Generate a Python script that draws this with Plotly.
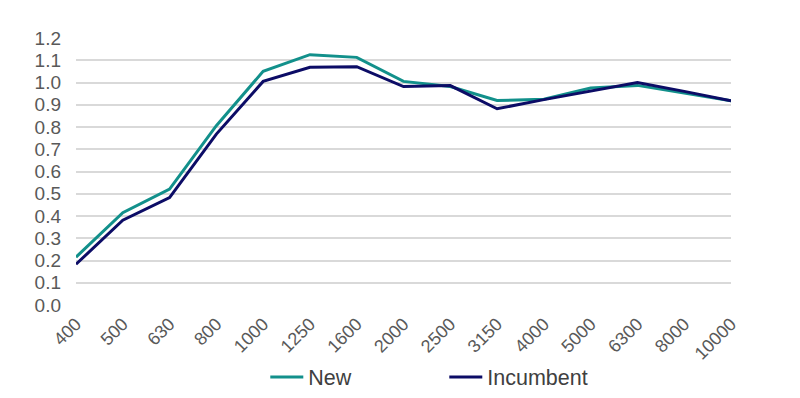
import plotly.graph_objects as go

freqs = ["400", "500", "630", "800", "1000", "1250", "1600", "2000", "2500",
         "3150", "4000", "5000", "6300", "8000", "10000"]
new_vals = [0.215, 0.415, 0.521, 0.806, 1.050, 1.125, 1.113, 1.005, 0.982,
            0.919, 0.925, 0.975, 0.987, 0.953, 0.918]
incumbent_vals = [0.183, 0.381, 0.483, 0.768, 1.005, 1.068, 1.071, 0.982, 0.986,
                  0.882, 0.923, 0.960, 1.000, 0.960, 0.918]
y_ticks = [round(i * 0.1, 1) for i in range(13)]

fig = go.Figure()
fig.add_trace(go.Scatter(x=freqs, y=new_vals, name="New", mode="lines",
                         line=dict(color="#12908B", width=3)))
fig.add_trace(go.Scatter(x=freqs, y=incumbent_vals, name="Incumbent", mode="lines",
                         line=dict(color="#0C0C66", width=3)))

# The page body adds an 8px margin, so the figure is 792x390 inside an 800x398 window
fig.update_layout(
    width=792, height=390,
    margin=dict(l=68, r=69, t=30, b=93, autoexpand=False),
    paper_bgcolor="white", plot_bgcolor="white",
    font=dict(family="Liberation Sans, Arial, sans-serif", color="#595959"),
    showlegend=True,
    legend=dict(orientation="h", x=0.289, xanchor="left", y=-0.27, yanchor="middle",
                font=dict(size=21.5, color="#404040"), itemwidth=33,
                entrywidth=131, entrywidthmode="pixels"),
)
fig.update_xaxes(type="category", range=[0, 14], tickangle=-45, automargin=False,
                 tickfont=dict(size=18, color="#595959"), ticklabelstandoff=4,
                 showgrid=False, showline=False, ticks="", zeroline=False)
fig.update_yaxes(range=[0, 1.2], tickvals=y_ticks, ticktext=[f"{v:.1f}" for v in y_ticks],
                 tickfont=dict(size=19, color="#595959"), automargin=False,
                 showgrid=True, gridcolor="#D9D9D9", gridwidth=1.5,
                 zeroline=False, showline=False, ticks="", ticklabelstandoff=14)

fig.write_html("out.html")
